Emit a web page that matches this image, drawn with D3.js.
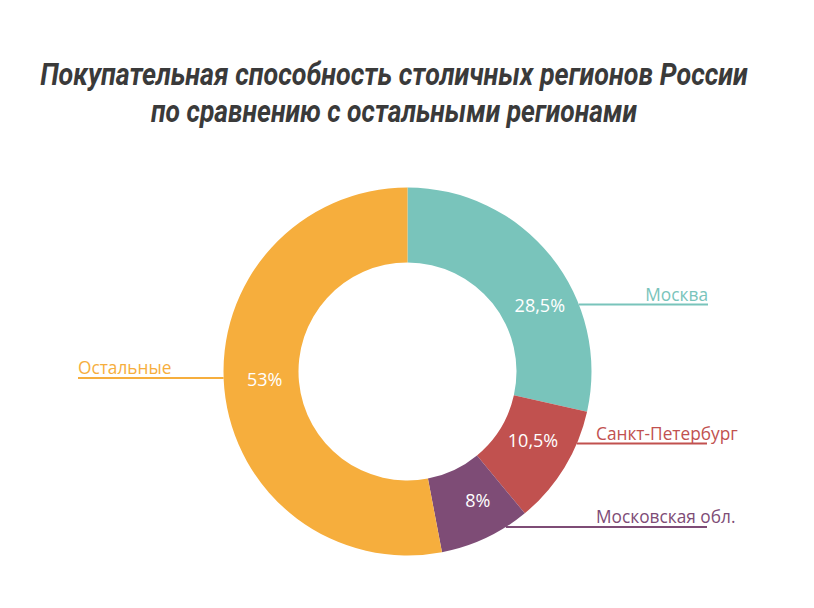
<!DOCTYPE html>
<html><head><meta charset="utf-8">
<script src="https://cdn.jsdelivr.net/npm/d3@7/dist/d3.min.js"></script>
<style>body{margin:0;background:#fff;} svg{display:block;}</style>
</head><body>
<svg id="chart" width="814" height="608"></svg>
<script>
const titleLines = ["Покупательная способность столичных регионов России", "по сравнению с остальными регионами"];
const categories = ["Москва", "Санкт-Петербург", "Московская обл.", "Остальные"];
const values = [28.5, 10.5, 8, 53];
const valueLabels = ["28,5%", "10,5%", "8%", "53%"];
const colors = ["#79C4BB", "#C1514F", "#7E4C76", "#F6AE3D"];

const svg = d3.select("#chart");
const cx = 407.5, cy = 371.5, R = 184, r = 109;

// title: measured and horizontally condensed to the reference widths
const tWidths = [708, 486];
titleLines.forEach((line, i) => {
  const gT = svg.append("g");
  const t = gT.append("text")
    .attr("x", 0).attr("y", 0)
    .attr("text-anchor", "middle")
    .attr("font-family", "Roboto, sans-serif")
    .attr("font-weight", 700).attr("font-style", "italic")
    .attr("font-size", 31).attr("fill", "#3a3a3a")
    .text(line);
  const w = t.node().getComputedTextLength();
  gT.attr("transform", `translate(394,${85 + i*37}) scale(${tWidths[i]/w},1)`);
});

const pie = d3.pie().sort(null).value(d => d)(values);
const arc = d3.arc().innerRadius(r).outerRadius(R);
const g = svg.append("g").attr("transform", `translate(${cx},${cy})`);
g.selectAll("path").data(pie).join("path")
  .attr("d", arc).attr("fill", (d,i) => colors[i]);

// value labels (polar placement inside ring)
const labelAngle = [63.4, 118.6, 151.3, 267];
const labelRad = [148, 143, 146.6, 143];
g.selectAll("text.val").data(pie).join("text").attr("class","val")
  .attr("x", (d,i) => labelRad[i]*Math.sin(labelAngle[i]*Math.PI/180))
  .attr("y", (d,i) => -labelRad[i]*Math.cos(labelAngle[i]*Math.PI/180) + 7)
  .attr("text-anchor", "middle")
  .attr("font-family", "'Open Sans', sans-serif").attr("font-size", 18)
  .attr("fill", "#fff")
  .text((d,i) => valueLabels[i]);

// leader lines and category labels
const lineY = [304.5, 443.5, 527, 378];
const side = [1, 1, 1, -1];
const lineEnd = [708, 707, 707, 78];
const lead = svg.append("g");
categories.forEach((c,i) => {
  const dy = lineY[i] - cy;
  const x0 = cx + side[i]*Math.sqrt(R*R - dy*dy);
  lead.append("line").attr("x1", x0).attr("x2", lineEnd[i])
    .attr("y1", lineY[i]).attr("y2", lineY[i])
    .attr("stroke", colors[i]).attr("stroke-width", 2);
  const t = lead.append("text")
    .attr("y", lineY[i] - 4)
    .attr("font-family", "'Open Sans', sans-serif").attr("font-size", 17.3)
    .attr("fill", colors[i]).text(c);
  if (i === 0) t.attr("x", lineEnd[i]).attr("text-anchor", "end");
  else if (side[i] < 0) t.attr("x", lineEnd[i]).attr("text-anchor", "start");
  else t.attr("x", 596).attr("text-anchor", "start");
});
</script>
</body></html>
